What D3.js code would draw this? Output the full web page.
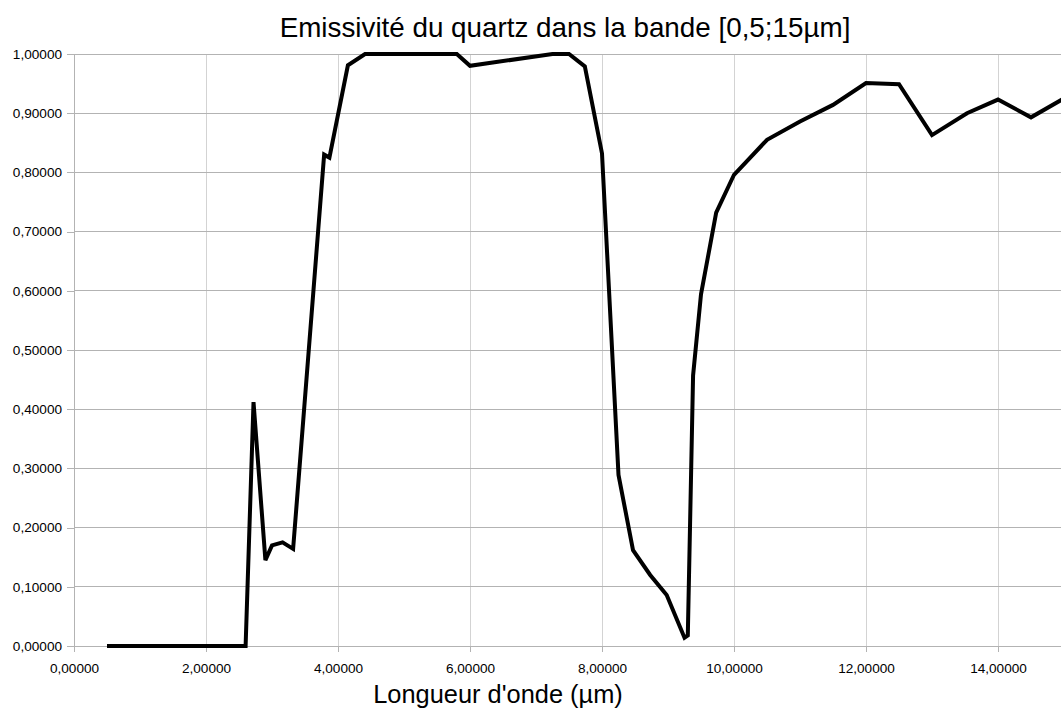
<!DOCTYPE html>
<html>
<head>
<meta charset="utf-8">
<script src="https://cdn.jsdelivr.net/npm/d3@7"></script>
<style>
  html, body { margin: 0; padding: 0; background: #fff; }
  svg { display: block; }
  text { font-family: "Liberation Sans", Arial, sans-serif; fill: #000; }
</style>
</head>
<body>
<svg id="chart" width="1061" height="709"></svg>
<script>
// Data
const wavelength = [0.5, 2.6, 2.72, 2.9, 3.0, 3.16, 3.32, 3.79, 3.87, 4.15, 4.41, 5.8, 6.0, 7.25, 7.5, 7.74, 8.0, 8.25, 8.47, 8.73, 8.98, 9.25, 9.3, 9.38, 9.5, 9.73, 10.0, 10.5, 11.0, 11.5, 12.0, 12.5, 13.0, 13.53, 14.0, 14.5, 15.0];
const emissivity = [0.0, 0.0, 0.412, 0.145, 0.17, 0.175, 0.164, 0.830, 0.825, 0.981, 1.0, 1.0, 0.980, 1.0, 1.0, 0.979, 0.832, 0.289, 0.162, 0.120, 0.086, 0.014, 0.018, 0.457, 0.594, 0.732, 0.796, 0.855, 0.886, 0.914, 0.951, 0.949, 0.863, 0.900, 0.923, 0.893, 0.925];
const xTicks = [0, 2, 4, 6, 8, 10, 12, 14];
const yTicks = [0, 0.1, 0.2, 0.3, 0.4, 0.5, 0.6, 0.7, 0.8, 0.9, 1.0];
const titleText = "Emissivité du quartz dans la bande [0,5;15µm]";
const xTitle = "Longueur d'onde (µm)";

(function () {
const svg = d3.select("#chart");
const pLeft = 74, pRight = 1064, pTop = 54, pBottom = 646;

const x = d3.scaleLinear().domain([0, 15]).range([pLeft, pRight]);
const y = d3.scaleLinear().domain([0, 1]).range([pBottom, pTop]);
const fmt = v => d3.format(".5f")(v).replace(".", ",");

// vertical gridlines
svg.append("g").selectAll("line").data(xTicks.filter(d => d > 0)).join("line")
  .attr("x1", d => x(d)).attr("x2", d => x(d))
  .attr("y1", pTop).attr("y2", pBottom)
  .attr("stroke", "#d3d3d3").attr("stroke-width", 1).attr("shape-rendering", "crispEdges");
// horizontal gridlines
svg.append("g").selectAll("line").data(yTicks.filter(d => d > 0)).join("line")
  .attr("x1", pLeft).attr("x2", pRight)
  .attr("y1", d => y(d)).attr("y2", d => y(d))
  .attr("stroke", "#b3b3b3").attr("stroke-width", 1).attr("shape-rendering", "crispEdges");

// axes
const xAxis = d3.axisBottom(x).tickValues(xTicks).tickFormat(fmt).tickSize(6).tickPadding(11);
const yAxis = d3.axisLeft(y).tickValues(yTicks).tickFormat(fmt).tickSize(7).tickPadding(5);

const gx = svg.append("g").attr("transform", `translate(0,${pBottom})`).call(xAxis);
const gy = svg.append("g").attr("transform", `translate(${pLeft},0)`).call(yAxis);
[gx, gy].forEach(g => {
  g.select(".domain").attr("stroke", "#b3b3b3").attr("shape-rendering", "crispEdges");
  g.selectAll(".tick line").attr("stroke", "#b3b3b3").attr("shape-rendering", "crispEdges");
  g.selectAll(".tick text").attr("font-size", 13.6).attr("fill", "#000")
    .attr("font-family", "'Liberation Sans', Arial, sans-serif");
});

// line
const line = d3.line().x((d, i) => x(wavelength[i])).y(d => y(d));
svg.append("path").datum(emissivity)
  .attr("d", line)
  .attr("fill", "none").attr("stroke", "#000").attr("stroke-width", 4)
  .attr("stroke-linejoin", "miter").attr("stroke-miterlimit", 4);

// titles
svg.append("text").attr("x", 565).attr("y", 37).attr("text-anchor", "middle")
  .attr("font-size", 27.8).text(titleText);
svg.append("text").attr("x", 498).attr("y", 703).attr("text-anchor", "middle")
  .attr("font-size", 25.4).text(xTitle);
})();
</script>
</body>
</html>
